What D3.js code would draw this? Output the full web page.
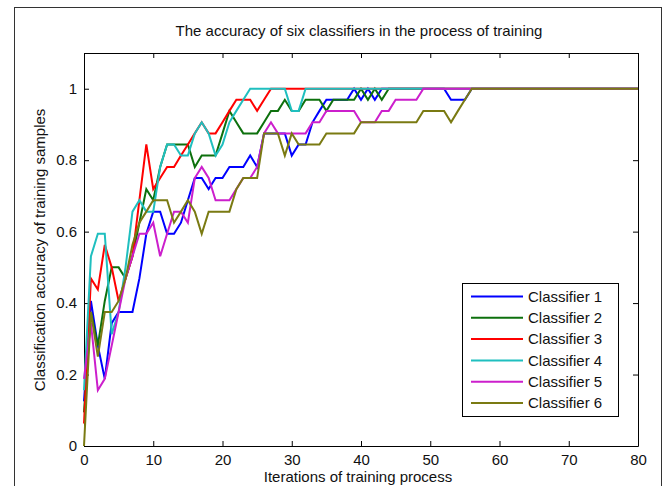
<!DOCTYPE html>
<html>
<head>
<meta charset="utf-8">
<script src="https://cdn.jsdelivr.net/npm/d3@7"></script>
<style>
  body { margin: 0; background: #fff; }
  svg text { font-family: Arial, "Liberation Sans", sans-serif; fill: #111; }
</style>
</head>
<body>
<div id="chart-holder"></div>
<script>
// accuracy of each classifier at every training iteration (0..80)
var classifier1 = [
  .125,.406,.281,.188,.344,.375,.375,.375,.469,.594,
  .656,.656,.594,.594,.625,.688,.75,.75,.719,.75,
  .75,.781,.781,.781,.813,.781,.875,.875,.875,.875,
  .813,.844,.844,.906,.938,.969,.969,.969,.969,1,
  .969,1,.969,1,1,1,1,1,1,1,
  1,1,1,.969,.969,.969,1,1,1,1,
  1,1,1,1,1,1,1,1,1,1,
  1,1,1,1,1,1,1,1,1,1,
  1];
var classifier2 = [
  .094,.375,.281,.406,.5,.5,.469,.531,.625,.719,
  .688,.781,.844,.844,.844,.844,.781,.813,.813,.813,
  .875,.938,.906,.875,.875,.875,.906,.938,.938,.969,
  .938,.938,.969,.969,.969,.938,.969,.969,.969,.969,
  1,.969,1,.969,1,1,1,1,1,1,
  1,1,1,1,1,1,1,1,1,1,
  1,1,1,1,1,1,1,1,1,1,
  1,1,1,1,1,1,1,1,1,1,
  1];
var classifier3 = [
  .063,.469,.438,.563,.5,.406,.469,.531,.688,.844,
  .719,.75,.781,.781,.813,.844,.875,.906,.875,.875,
  .906,.938,.969,.969,.969,.938,.969,1,1,1,
  1,1,1,1,1,1,1,1,1,1,
  1,1,1,1,1,1,1,1,1,1,
  1,1,1,1,1,1,1,1,1,1,
  1,1,1,1,1,1,1,1,1,1,
  1,1,1,1,1,1,1,1,1,1,
  1];
var classifier4 = [
  .156,.531,.594,.594,.313,.375,.5,.656,.688,.656,
  .656,.781,.844,.844,.813,.813,.875,.906,.875,.813,
  .844,.906,.938,.969,1,1,1,1,1,1,
  .938,.938,1,1,1,1,1,1,1,1,
  1,1,1,1,1,1,1,1,1,1,
  1,1,1,1,1,1,1,1,1,1,
  1,1,1,1,1,1,1,1,1,1,
  1,1,1,1,1,1,1,1,1,1,
  1];
var classifier5 = [
  .188,.344,.156,.188,.281,.375,.469,.531,.594,.594,
  .625,.531,.594,.656,.656,.625,.75,.781,.75,.688,
  .688,.688,.719,.75,.75,.781,.875,.906,.875,.875,
  .875,.875,.875,.906,.906,.938,.938,.938,.938,.938,
  .906,.906,.906,.938,.938,.969,.969,.969,.969,1,
  1,1,1,1,1,1,1,1,1,1,
  1,1,1,1,1,1,1,1,1,1,
  1,1,1,1,1,1,1,1,1,1,
  1];
var classifier6 = [
  0,.375,.25,.375,.375,.406,.469,.563,.625,.656,
  .688,.688,.688,.625,.656,.688,.656,.594,.656,.656,
  .656,.656,.719,.75,.75,.75,.875,.875,.875,.813,
  .875,.844,.844,.844,.844,.875,.875,.875,.875,.875,
  .906,.906,.906,.906,.906,.906,.906,.906,.906,.938,
  .938,.938,.938,.906,.938,.969,1,1,1,1,
  1,1,1,1,1,1,1,1,1,1,
  1,1,1,1,1,1,1,1,1,1,
  1];

var seriesNames = ['Classifier 1', 'Classifier 2', 'Classifier 3', 'Classifier 4', 'Classifier 5', 'Classifier 6'];
var seriesValues = [classifier1, classifier2, classifier3, classifier4, classifier5, classifier6];
var seriesColors = ['#0000ff', '#0d700d', '#ff0000', '#1fbfbf', '#cc1fcc', '#7a7a12'];

var xTicks = [0, 10, 20, 30, 40, 50, 60, 70, 80];
var yTicks = [0, 0.2, 0.4, 0.6, 0.8, 1];

var series = seriesNames.map(function(name, i) {
  return {name: name, color: seriesColors[i], values: seriesValues[i]};
});

var margin = {top: 53, right: 34, bottom: 40, left: 84};
var fullWidth = 672;
var fullHeight = 486;
var width = fullWidth - margin.left - margin.right;
var height = 446 - margin.top;

var root = d3.select('#chart-holder').append('svg')
  .attr('width', fullWidth)
  .attr('height', fullHeight);

// figure frame, cut off at the bottom like the screenshot
root.append('rect')
  .attr('x', 14.5)
  .attr('y', 7.5)
  .attr('width', 647)
  .attr('height', 500)
  .attr('fill', '#fff')
  .attr('stroke', '#333');

var svg = root.append('g')
  .attr('transform', 'translate(' + margin.left + ',' + margin.top + ')');

var xScale = d3.scaleLinear().domain([0, 80]).range([0, width]);
var yScale = d3.scaleLinear().domain([0, 1.1]).range([height, 0]);

// matlab style axes: ticks point inwards on all four sides
function styleAxis(g) {
  g.selectAll('path, line').attr('stroke', '#000');
  g.selectAll('text')
    .attr('fill', '#111')
    .style('font-size', '15px')
    .style('font-family', 'Arial, "Liberation Sans", sans-serif');
}

svg.append('g')
  .attr('transform', 'translate(0,' + height + ')')
  .call(d3.axisBottom(xScale).tickValues(xTicks).tickSizeInner(-5).tickSizeOuter(0).tickPadding(8))
  .call(styleAxis);

svg.append('g')
  .call(d3.axisTop(xScale).tickValues(xTicks).tickSizeInner(-5).tickSizeOuter(0).tickFormat(''))
  .call(styleAxis);

svg.append('g')
  .call(d3.axisLeft(yScale).tickValues(yTicks).tickSizeInner(-5).tickSizeOuter(0).tickPadding(7)
    .tickFormat(function(d) { return String(d); }))
  .call(styleAxis);

svg.append('g')
  .attr('transform', 'translate(' + width + ',0)')
  .call(d3.axisRight(yScale).tickValues(yTicks).tickSizeInner(-5).tickSizeOuter(0).tickFormat(''))
  .call(styleAxis);

var line = d3.line()
  .x(function(d, i) { return xScale(i); })
  .y(function(d) { return yScale(d); });

svg.append('g')
  .classed('lines', true)
  .selectAll('path')
  .data(series)
  .enter().append('path')
    .attr('d', function(d) { return line(d.values); })
    .attr('fill', 'none')
    .attr('stroke', function(d) { return d.color; })
    .attr('stroke-width', 2);

// legend box in the lower right
var legend = svg.append('g')
  .attr('transform', 'translate(' + (462 - margin.left) + ',' + (283 - margin.top) + ')');

legend.append('rect')
  .attr('x', 0.5)
  .attr('y', 0.5)
  .attr('width', 156)
  .attr('height', 133)
  .attr('fill', '#fff')
  .attr('stroke', '#000');

var rows = legend.selectAll('g.row')
  .data(series)
  .enter().append('g')
    .classed('row', true)
    .attr('transform', function(d, i) { return 'translate(0,' + (13.5 + i * 21.3) + ')'; });

rows.append('line')
  .attr('x1', 9)
  .attr('x2', 61)
  .attr('stroke', function(d) { return d.color; })
  .attr('stroke-width', 2);

rows.append('text')
  .attr('x', 66)
  .attr('dy', '0.35em')
  .style('font-size', '15px')
  .text(function(d) { return d.name; });

root.append('text')
  .attr('x', 359)
  .attr('y', 36)
  .attr('text-anchor', 'middle')
  .style('font-size', '15px')
  .text('The accuracy of six classifiers in the process of training');

root.append('text')
  .attr('x', 358)
  .attr('y', 482)
  .attr('text-anchor', 'middle')
  .style('font-size', '15px')
  .text('Iterations of training process');

root.append('text')
  .attr('transform', 'translate(45,250) rotate(-90)')
  .attr('text-anchor', 'middle')
  .style('font-size', '15px')
  .text('Classification accuracy of training samples');
</script>
</body>
</html>
